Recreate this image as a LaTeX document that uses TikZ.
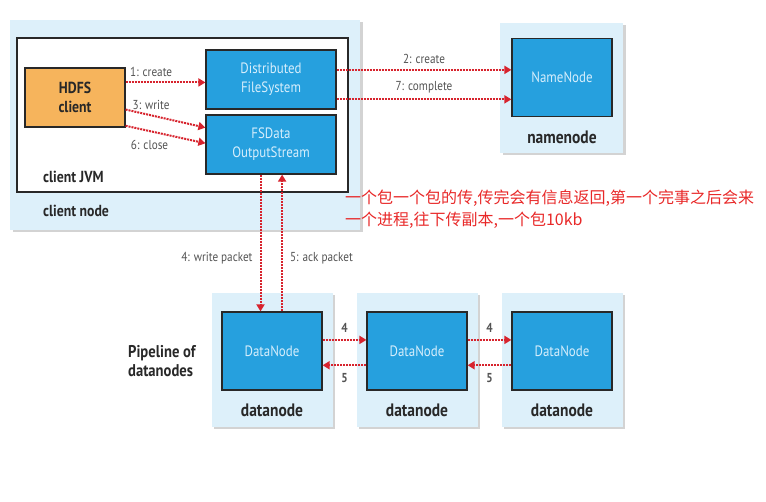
\documentclass[tikz,border=0pt]{standalone}
\usepackage{fontspec}
\setmainfont{PT Sans}[FakeStretch=0.86]
\newfontfamily\cjk{Noto Sans CJK SC}
\usetikzlibrary{arrows.meta,calc,shadows}
\definecolor{paleblue}{RGB}{221,240,250}
\definecolor{boxblue}{RGB}{38,160,222}
\definecolor{boxtext}{RGB}{214,238,252}
\definecolor{hdfsorange}{RGB}{246,180,92}
\definecolor{pktred}{RGB}{215,35,45}
\definecolor{notered}{RGB}{232,40,40}
\definecolor{ink}{RGB}{40,40,40}

\begin{document}
\begin{tikzpicture}[x=1pt, y=-1pt,
  every node/.style={font=\small, text=ink, inner sep=0pt},
  shell/.style={fill=paleblue, drop shadow={shadow xshift=2.5pt, shadow yshift=-2.5pt, opacity=.35}},
  proc/.style={draw=ink, line width=1.2pt, fill=boxblue, text=boxtext, font=\fontsize{15}{19}\selectfont, align=center, minimum width=100pt, minimum height=78pt},
  pkt/.style={pktred, line width=2pt, densely dotted, -{Triangle[width=8pt,length=7pt]}},
  tag/.style={font=\fontsize{16}{19}\selectfont\bfseries, align=center},
  bigtag/.style={font=\fontsize{18}{20}\selectfont\bfseries},
  msg/.style={font=\fontsize{13}{15}\selectfont, text=ink!80}]
	\useasboundingbox (0,0) rectangle (766,502);
	% client side
	\node[shell, minimum width=350pt, minimum height=210pt] (clientnode) at (185,125) {};
	\node[draw=ink, line width=1.2pt, fill=white, minimum width=331pt, minimum height=154pt] (jvm) at (182.5,115) {};
	\node[tag, anchor=west] (jvmlbl) at (43,177) {client JVM};
	\node[tag, anchor=west] (nodelbl) at (43,211) {client node};
	\node[tag, draw=ink, line width=1.2pt, fill=hdfsorange, minimum width=100pt, minimum height=59pt] (client) at (75,97.5) {HDFS\\client};
	\node[proc, minimum width=130pt, minimum height=59pt] (dfs) at (271,79.5) {Distributed\\FileSystem};
	\node[proc, minimum width=130pt, minimum height=59pt] (fsd) at (271,144.5) {FSData\\OutputStream};
	% namenode
	\node[shell, minimum width=123pt, minimum height=130pt] (nnbox) at (561.5,88) {};
	\node[proc] (nn) at (562,77.5) {NameNode};
	\node[bigtag] (nnlbl) at (562,137) {namenode};
	% pipeline
	\node[tag, font=\fontsize{17}{19}\selectfont\bfseries, align=left, anchor=west] (pipe) at (128,361) {Pipeline of\\datanodes};
	\foreach \i/\x in {1/272,2/417,3/562} {
		\node[shell, minimum width=121pt, minimum height=134pt] (dnbox\i) at (\x,360) {};
		\node[proc] (dn\i) at (\x,351) {DataNode};
		\node[bigtag] (dnlbl\i) at (\x,410) {datanode};
	}
	% calls
	\draw[pkt] ($(client.north east)!.25!(client.south east)$) coordinate (c1) -- (c1 -| dfs.west) node[msg, pos=.32, above=5pt] {1: create};
	\draw[pkt] ($(client.north east)!.7!(client.south east)$) -- ($(fsd.north west)!.22!(fsd.south west)$) node[msg, pos=.32, above=5pt] {3: write};
	\draw[pkt] ($(client.north east)!.97!(client.south east)$) -- ($(fsd.north west)!.48!(fsd.south west)$) node[msg, pos=.3, below=8pt] {6: close};
	\draw[pkt] ($(dfs.north east)!.34!(dfs.south east)$) coordinate (c2) -- (c2 -| nn.west) node[msg, midway, above=5pt] {2: create};
	\draw[pkt] ($(dfs.north east)!.83!(dfs.south east)$) coordinate (c7) -- (c7 -| nn.west) node[msg, midway, above=5pt] {7: complete};
	\draw[pkt] ($(fsd.south west)!.42!(fsd.south east)$) coordinate (w4) -- (w4 |- dn1.north) node[msg, pos=.61, left=7pt] {4: write packet};
	\draw[pkt] ($(dn1.north west)!.6!(dn1.north east)$) coordinate (k5) -- (k5 |- fsd.south) node[msg, pos=.39, right=7pt] {5: ack packet};
	\foreach \a/\b in {1/2,2/3} {
		\draw[pkt] ($(dn\a.north east)!.36!(dn\a.south east)$) coordinate (f\a) -- (f\a -| dn\b.west) node[msg, font=\fontsize{13}{15}\selectfont\bfseries, midway, above=6pt] {4};
		\draw[pkt] ($(dn\b.north west)!.68!(dn\b.south west)$) coordinate (b\a) -- (b\a -| dn\a.east) node[msg, font=\fontsize{13}{15}\selectfont\bfseries, midway, below=7pt] {5};
	}
	% note
	\node[anchor=base west, align=left, text=notered, font=\cjk\fontsize{16}{22}\selectfont] (note) at (345,226) {一个包一个包的传,传完会有信息返回,第一个完事之后会来\\一个进程,往下传副本,一个包10kb};
\end{tikzpicture}
\end{document}
